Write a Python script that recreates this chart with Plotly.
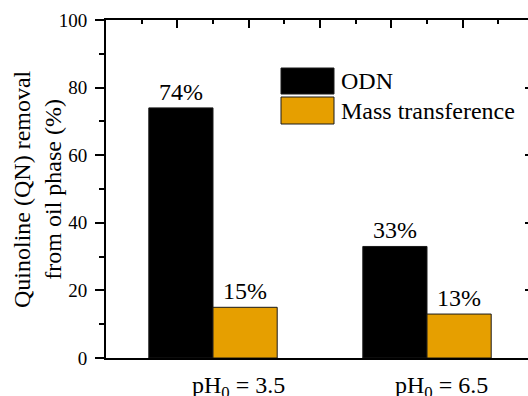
import plotly.graph_objects as go

categories = ["pH<sub>0</sub> = 3.5", "pH<sub>0</sub> = 6.5"]
series_names = ["ODN", "Mass transference"]
odn_values = [74, 33]
mass_values = [15, 13]
y_ticks = [0, 20, 40, 60, 80, 100]

colors = ["#000000", "#E69F00"]
FONT = "Liberation Serif"

W, H = 540, 396
ML, MR, MT, MB = 106, 6, 20, 38
PW = W - ML - MR
PH = H - MT - MB

fig = go.Figure()
for name, vals, col in zip(series_names, [odn_values, mass_values], colors):
    fig.add_trace(go.Bar(
        x=categories, y=vals, name=name,
        marker=dict(color=col, line=dict(color="#1a1a1a", width=1)),
        text=[f"{v}%" for v in vals], textposition="outside",
        textfont=dict(family=FONT, size=24, color="black"),
        cliponaxis=False, showlegend=False,
    ))

fig.add_trace(go.Scatter(x=[None], y=[None], xaxis="x2", yaxis="y2", showlegend=False))

axis_common = dict(showline=True, linecolor="black", linewidth=2, tickcolor="black",
                   tickwidth=1.5, automargin=False)

fig.update_layout(
    width=W, height=H,
    margin=dict(l=ML, r=MR, t=MT, b=MB, autoexpand=False),
    paper_bgcolor="white", plot_bgcolor="white",
    barmode="group", bargap=0.4, bargroupgap=0,
    font=dict(family=FONT, size=19, color="black"),
    showlegend=False,
    xaxis=dict(type="category", range=[-0.5, 1.5], ticks="", showgrid=False,
               showticklabels=False, **axis_common),
    xaxis2=dict(overlaying="x", side="top", range=[-0.5, 1.5], showgrid=False,
                ticks="inside", ticklen=8, tickmode="array",
                tickvals=[-0.5 + k / 3 for k in range(7)], showticklabels=False,
                minor=dict(ticks="inside", ticklen=4, tickcolor="black", tickwidth=1.5,
                           tickmode="array", tickvals=[-0.5 + k / 6 for k in range(13)]),
                **axis_common),
    yaxis=dict(range=[0, 100], tickvals=y_ticks, ticks="outside", ticklen=9,
               showgrid=False, zeroline=False, ticklabelstandoff=4,
               tickfont=dict(family=FONT, size=19),
               minor=dict(ticks="outside", ticklen=5, dtick=10, tickcolor="black", tickwidth=1.5),
               **axis_common),
    yaxis2=dict(overlaying="y", side="right", range=[0, 100], tickvals=y_ticks,
                ticks="inside", ticklen=9, showticklabels=False, showgrid=False, zeroline=False,
                minor=dict(ticks="inside", ticklen=5, dtick=10, tickcolor="black", tickwidth=1.5),
                **axis_common),
)

def px_x(px):
    return (px - ML) / PW

def px_y(py):
    return (H - MB - py) / PH

# category labels (offset to the right as in the reference)
label_shifts = [25, 14]
for cat, dx in zip(categories, label_shifts):
    fig.add_annotation(text=cat, xref="x", yref="paper", x=cat, y=0,
                       xanchor="center", yanchor="top", xshift=dx, yshift=-12,
                       showarrow=False, font=dict(family=FONT, size=24, color="black"))

fig.add_annotation(text="Quinoline (QN) removal<br>from oil phase (%)",
                   xref="paper", yref="paper", x=px_x(37), y=px_y(189),
                   xanchor="center", yanchor="middle", textangle=-90, showarrow=False,
                   font=dict(family=FONT, size=24, color="black"))

legend_boxes = [(68, 94), (97, 124)]
for name, col, (y0, y1) in zip(series_names, colors, legend_boxes):
    fig.add_shape(type="rect", xref="paper", yref="paper",
                  x0=px_x(281), x1=px_x(334), y0=px_y(y1), y1=px_y(y0),
                  fillcolor=col, line=dict(color="#1a1a1a", width=1))
    fig.add_annotation(text=name, xref="paper", yref="paper",
                       x=px_x(339), y=px_y((y0 + y1) / 2), xanchor="left", yanchor="middle",
                       showarrow=False, font=dict(family=FONT, size=24, color="black"))

fig.write_html("out.html", config={"displayModeBar": False},
               post_script="document.body.style.margin='0';document.body.style.overflow='hidden';document.documentElement.style.overflow='hidden';")
